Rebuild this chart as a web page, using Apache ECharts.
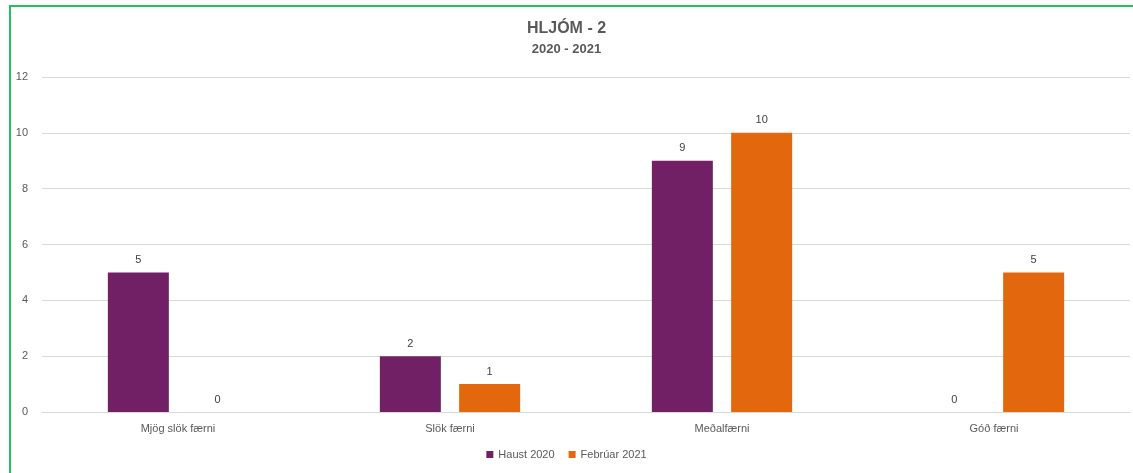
<!DOCTYPE html>
<html><head><meta charset="utf-8">
<script src="https://cdn.jsdelivr.net/npm/echarts@6/dist/echarts.min.js"></script>
<style>
html,body{margin:0;padding:0;background:#fff;}
#frame{position:absolute;left:9px;top:5px;width:1124px;height:468px;border-left:2px solid #1fc45e;border-top:2px solid #1fc45e;box-sizing:border-box;}
#c{position:absolute;left:0;top:0;width:1133px;height:473px;}
</style></head>
<body>
<div id="frame"></div>
<div id="c"></div>
<script>
const categories = ['Mjög slök færni', 'Slök færni', 'Meðalfærni', 'Góð færni'];
const haust2020 = [5, 2, 9, 0];
const februar2021 = [0, 1, 10, 5];
const seriesNames = ['Haust 2020', 'Febrúar 2021'];
const titleText = 'HLJÓM - 2';
const subtitleText = '2020 - 2021';

const font = '"Liberation Sans", sans-serif';
const chart = echarts.init(document.getElementById('c'));
const labelCfg = {show: true, position: 'top', distance: 7, color: '#404040', fontSize: 11, fontFamily: font};
chart.setOption({
  animation: false,
  title: {
    text: titleText, subtext: subtitleText, left: 'center', top: 16, itemGap: 6,
    textStyle: {color: '#595959', fontSize: 16, fontWeight: 'bold', fontFamily: font},
    subtextStyle: {color: '#595959', fontSize: 13, fontWeight: 'bold', fontFamily: font}
  },
  legend: {
    bottom: 8, left: 'center', itemWidth: 7, itemHeight: 7, itemGap: 14,
    icon: 'rect',
    itemStyle: {borderWidth: 0},
    textStyle: {color: '#595959', fontSize: 11, fontFamily: font},
    data: seriesNames
  },
  grid: {left: 42, right: 3, top: 77, bottom: 61},
  xAxis: {
    type: 'category', data: categories,
    axisLine: {lineStyle: {color: '#d9d9d9'}}, axisTick: {show: false},
    axisLabel: {color: '#595959', fontSize: 11, fontFamily: font, margin: 11}
  },
  yAxis: {
    type: 'value', min: 0, max: 12, interval: 2,
    axisLine: {show: false}, axisTick: {show: false},
    splitLine: {lineStyle: {color: '#d9d9d9', width: 1}},
    axisLabel: {color: '#595959', fontSize: 11, fontFamily: font, margin: 14}
  },
  series: [
    {name: seriesNames[0], type: 'bar', data: haust2020, barWidth: 61, barGap: '30%',
     itemStyle: {color: '#722066', borderWidth: 0}, label: labelCfg},
    {name: seriesNames[1], type: 'bar', data: februar2021, barWidth: 61,
     itemStyle: {color: '#e3670c', borderWidth: 0}, label: labelCfg}
  ]
});
</script>
</body></html>
